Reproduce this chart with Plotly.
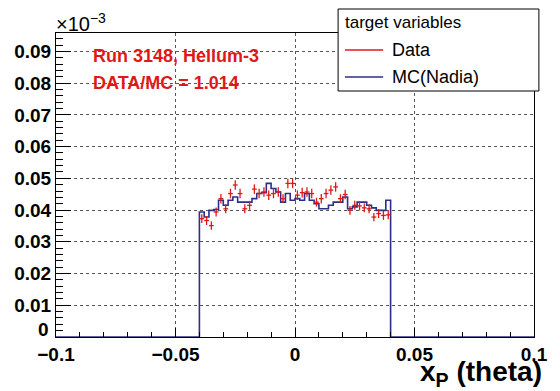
import numpy as np
import plotly.graph_objects as go

# Histogram binning: 100 bins on [-0.1, 0.1]; only [-0.04, 0.04] is populated
x_min, x_max = -0.1, 0.1
bin_width = 0.002
fill_low = -0.04

# Normalised counts (units of 1e-3) for the 40 populated bins
mc_vals = [0.0394, 0.0378, 0.0399, 0.0402, 0.0431, 0.0415, 0.0431, 0.0441, 0.0425, 0.0425,
           0.0425, 0.0436, 0.0452, 0.0455, 0.0484, 0.0468, 0.0457, 0.0425, 0.0452, 0.0431,
           0.0436, 0.0431, 0.0452, 0.0431, 0.0420, 0.0404, 0.0404, 0.0415, 0.0425, 0.0425,
           0.0441, 0.0404, 0.0410, 0.0425, 0.0425, 0.0415, 0.0407, 0.0399, 0.0399, 0.0431]
data_vals = [0.0373, 0.0367, 0.0351, 0.0394, 0.0436, 0.0404, 0.0452, 0.0479, 0.0452, 0.0404,
             0.0415, 0.0466, 0.0452, 0.0457, 0.0447, 0.0452, 0.0457, 0.0436, 0.0484, 0.0484,
             0.0447, 0.0455, 0.0457, 0.0452, 0.0425, 0.0436, 0.0452, 0.0463, 0.0473, 0.0436,
             0.0449, 0.0399, 0.0415, 0.0413, 0.0407, 0.0404, 0.0378, 0.0389, 0.0383, 0.0385]
data_errs = [0.0014, 0.0014, 0.0013, 0.0014, 0.0015, 0.0014, 0.0015, 0.0015, 0.0015, 0.0014,
             0.0014, 0.0015, 0.0015, 0.0015, 0.0015, 0.0015, 0.0015, 0.0014, 0.0015, 0.0015,
             0.0015, 0.0015, 0.0015, 0.0015, 0.0014, 0.0015, 0.0015, 0.0015, 0.0015, 0.0014,
             0.0015, 0.0014, 0.0014, 0.0014, 0.0014, 0.0014, 0.0013, 0.0014, 0.0014, 0.0014]

y_ticks = [0.01, 0.02, 0.03, 0.04, 0.05, 0.06, 0.07, 0.08, 0.09]
y_zero_label = "0"
x_ticks = [-0.1, -0.05, 0, 0.05, 0.1]

run_label = "Run 3148, Helium-3"
ratio_label = "DATA/MC = 1.014"
legend_title = "target variables"
data_name = "Data"
mc_name = "MC(Nadia)"

RED = "#e01818"
NAVY = "#2e2e86"
FONT = "Liberation Sans"

# Full-range step histogram for the MC (empty bins are zero)
n_bins = int(round((x_max - x_min) / bin_width))
edges = x_min + bin_width * np.arange(n_bins + 1)
first = int(round((fill_low - x_min) / bin_width))
mc_full = np.zeros(n_bins)
mc_full[first:first + len(mc_vals)] = mc_vals
step_x = edges
step_y = np.append(mc_full, mc_full[-1])

centers = fill_low + bin_width * (np.arange(len(data_vals)) + 0.5)

fig = go.Figure()
fig.add_trace(go.Scatter(
    x=step_x, y=step_y, mode="lines", line=dict(color=NAVY, width=1.6, shape="hv"),
    name=mc_name, showlegend=False, hoverinfo="skip"))
fig.add_trace(go.Scatter(
    x=centers, y=data_vals, mode="markers", marker=dict(size=1, color=RED),
    error_x=dict(type="constant", value=bin_width / 2, width=0, color=RED, thickness=1.3),
    error_y=dict(type="data", array=data_errs, width=0, color=RED, thickness=1.3),
    name=data_name, showlegend=False))

# Plot-area geometry in pixels
W, H = 560, 391
L, R, T, B = 56, 16, 33, 54
pw, ph = W - L - R, H - T - B


def px(xp):
    return (xp - L) / pw


def py(yp):
    return (H - B - yp) / ph


ann = []
ann.append(dict(text="×10<sup>−3</sup>", x=px(54), y=py(23), xref="paper", yref="paper",
                xanchor="left", yanchor="middle", showarrow=False,
                font=dict(family=FONT, size=20, color="black")))
ann.append(dict(text="<b>" + y_zero_label + "</b>", x=px(51), y=py(329), xref="paper", yref="paper",
                xanchor="right", yanchor="middle", showarrow=False,
                font=dict(family=FONT, size=19, color="black")))
ann.append(dict(text="<b>" + run_label + "</b>", x=px(92), y=py(56), xref="paper", yref="paper",
                xanchor="left", yanchor="middle", showarrow=False,
                font=dict(family=FONT, size=18, color=RED)))
ann.append(dict(text="<b>" + ratio_label + "</b>", x=px(92), y=py(83), xref="paper", yref="paper",
                xanchor="left", yanchor="middle", showarrow=False,
                font=dict(family=FONT, size=18, color=RED)))
ann.append(dict(text="<b>x<sub>P</sub> (theta)</b>", x=px(554), y=py(373), xref="paper", yref="paper",
                xanchor="right", yanchor="middle", showarrow=False,
                font=dict(family=FONT, size=28, color="black")))

# Legend box
shapes = [dict(type="rect", xref="paper", yref="paper", x0=px(344), x1=px(549), y0=py(91), y1=py(9),
               line=dict(color="black", width=1), fillcolor="white", layer="above")]
ann.append(dict(text=legend_title, x=px(349), y=py(23), xref="paper", yref="paper",
                xanchor="left", yanchor="middle", showarrow=False,
                font=dict(family=FONT, size=17, color="black")))
for name, color, yy in [(data_name, RED, 50), (mc_name, NAVY, 77)]:
    shapes.append(dict(type="line", xref="paper", yref="paper", x0=px(351), x1=px(390),
                       y0=py(yy), y1=py(yy), line=dict(color=color, width=1.3), layer="above"))
    ann.append(dict(text=name, x=px(397), y=py(yy), xref="paper", yref="paper",
                    xanchor="left", yanchor="middle", showarrow=False,
                    font=dict(family=FONT, size=18, color="black")))

grid = dict(showgrid=True, gridcolor="#555", griddash="dot", gridwidth=1)
fig.update_layout(
    width=W, height=H, margin=dict(l=L, r=R, t=T, b=B, pad=0),
    paper_bgcolor="white", plot_bgcolor="white",
    annotations=ann, shapes=shapes, showlegend=False,
    xaxis=dict(range=[x_min, x_max], tickvals=x_ticks, ticks="inside", ticklen=9, tickwidth=1,
               tickcolor="black", showline=True, linecolor="black", linewidth=1, mirror=True,
               zeroline=False,
               tickfont=dict(family=FONT, size=19, weight="bold", color="black"),
               minor=dict(dtick=0.01, ticks="inside", ticklen=5, tickcolor="black", showgrid=False),
               **grid),
    yaxis=dict(range=[0, 0.0958], tickvals=y_ticks, ticks="inside", ticklen=15, tickwidth=1,
               tickcolor="black", showline=True, linecolor="black", linewidth=1, mirror=True,
               zeroline=False, tickfont=dict(family=FONT, size=19, weight="bold", color="black"),
               minor=dict(tick0=0, dtick=0.002, ticks="inside", ticklen=7, tickcolor="black",
                          showgrid=False),
               **grid),
)

fig.write_html("out.html")
